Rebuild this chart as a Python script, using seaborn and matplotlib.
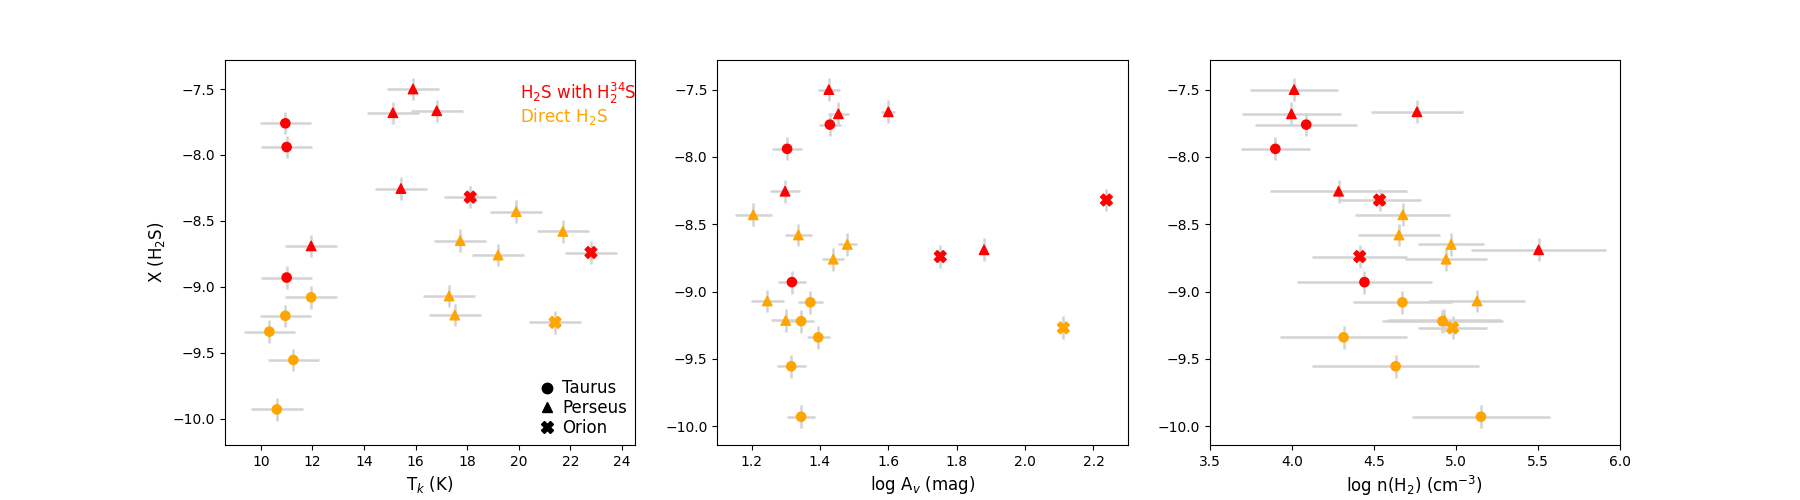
import numpy as np
import pandas as pd
import matplotlib
matplotlib.use("Agg")
import matplotlib.pyplot as plt
import seaborn as sns
from matplotlib.lines import Line2D

# ── Data ──────────────────────────────────────────────────────
region = ["Taurus", "Taurus", "Taurus",
          "Perseus", "Perseus", "Perseus", "Perseus", "Perseus",
          "Orion", "Orion",
          "Taurus", "Taurus", "Taurus", "Taurus", "Taurus",
          "Perseus", "Perseus", "Perseus", "Perseus", "Perseus", "Perseus",
          "Orion"]
method = ["iso"] * 10 + ["direct"] * 12

x_h2s = [-7.76, -7.94, -8.93,
         -7.50, -7.68, -7.665, -8.255, -8.69,
         -8.32, -8.74,
         -9.08, -9.22, -9.34, -9.555, -9.93,
         -8.43, -8.58, -8.65, -8.76, -9.07, -9.215,
         -9.27]
tk = [10.95, 11.0, 11.0,
      15.9, 15.12, 16.82, 15.43, 11.95,
      18.12, 22.8,
      11.95, 10.95, 10.33, 11.26, 10.62,
      19.9, 21.71, 17.73, 19.2, 17.3, 17.52,
      21.41]
log_av = [1.429, 1.304, 1.318,
          1.426, 1.454, 1.60, 1.298, 1.88,
          2.238, 1.752,
          1.372, 1.345, 1.395, 1.316, 1.345,
          1.205, 1.337, 1.48, 1.439, 1.246, 1.30,
          2.112]
log_n = [4.088, 3.90, 4.443,
         4.014, 3.998, 4.763, 4.285, 5.504,
         4.535, 4.414,
         4.674, 4.918, 4.316, 4.633, 5.153,
         4.677, 4.653, 4.971, 4.94, 5.129, 4.93,
         4.98]

tk_err = [1.0] * 22
log_av_err = [0.032, 0.043, 0.04,
              0.032, 0.03, 0.02, 0.044, 0.0,
              0.0, 0.0,
              0.036, 0.039, 0.034, 0.042, 0.04,
              0.054, 0.039, 0.028, 0.032, 0.049, 0.042,
              0.0]
log_n_err = [0.31, 0.21, 0.41,
             0.27, 0.30, 0.28, 0.42, 0.41,
             0.25, 0.29,
             0.30, 0.37, 0.385, 0.51, 0.42,
             0.29, 0.25, 0.20, 0.25, 0.29, 0.345,
             0.21]
x_err = [0.085] * 22

df = pd.DataFrame({
    "region": region, "method": method, "X": x_h2s,
    "tk": tk, "log_av": log_av, "log_n": log_n,
    "tk_err": tk_err, "log_av_err": log_av_err, "log_n_err": log_n_err,
    "X_err": x_err,
})

PALETTE = {"iso": "red", "direct": "orange"}
MARKERS = {"Taurus": "o", "Perseus": "^", "Orion": "X"}
SIZES = {"Taurus": 44, "Perseus": 46, "Orion": 72}

panels = [
    ("tk", "tk_err", r"T$_k$ (K)", (8.61, 24.52), (-10.2, -7.28)),
    ("log_av", "log_av_err", r"log A$_v$ (mag)", (1.1, 2.3), (-10.14, -7.28)),
    ("log_n", "log_n_err", r"log n(H$_2$) (cm$^{-3}$)", (3.5, 6.0), (-10.14, -7.28)),
]

fig, axes = plt.subplots(1, 3, figsize=(18, 5), dpi=100)

for ax, (col, ecol, xlabel, xlim, ylim) in zip(axes, panels):
    ax.errorbar(df[col], df["X"], xerr=df[ecol], yerr=df["X_err"],
                fmt="none", ecolor="lightgray", elinewidth=1.8, zorder=1)
    sns.scatterplot(data=df, x=col, y="X", hue="method", style="region",
                    size="region", sizes=SIZES,
                    palette=PALETTE, markers=MARKERS, linewidth=1,
                    edgecolor="face", legend=False, ax=ax, zorder=2)
    ax.set_xlim(*xlim)
    ax.set_ylim(*ylim)
    ax.set_xlabel(xlabel, fontsize=12)
    ax.set_ylabel("")

axes[0].set_xticks([10, 12, 14, 16, 18, 20, 22, 24])
axes[1].set_xticks([1.2, 1.4, 1.6, 1.8, 2.0, 2.2])
axes[2].set_xticks([3.5, 4.0, 4.5, 5.0, 5.5, 6.0])
for ax in axes:
    ax.set_yticks([-10.0, -9.5, -9.0, -8.5, -8.0, -7.5])
axes[0].set_ylabel(r"X (H$_2$S)", fontsize=12)

# colour key (text only) and marker legend in the first panel
axes[0].text(0.72, 0.912, r"H$_2$S with H$_2^{34}$S", color="red",
             fontsize=12, va="center", transform=axes[0].transAxes)
axes[0].text(0.72, 0.853, r"Direct H$_2$S", color="orange",
             fontsize=12, va="center", transform=axes[0].transAxes)

legend_ms = {"Taurus": 7.5, "Perseus": 7.5, "Orion": 9}
handles = [Line2D([], [], marker=MARKERS[r], color="black", linestyle="none",
                  markersize=legend_ms[r]) for r in ["Taurus", "Perseus", "Orion"]]
axes[0].legend(handles, ["Taurus", "Perseus", "Orion"], loc="lower right",
               frameon=False, fontsize=12, handlelength=1.0,
               handletextpad=0.4, labelspacing=0.1, borderaxespad=0.1)

plt.savefig("out.png", dpi=100)
